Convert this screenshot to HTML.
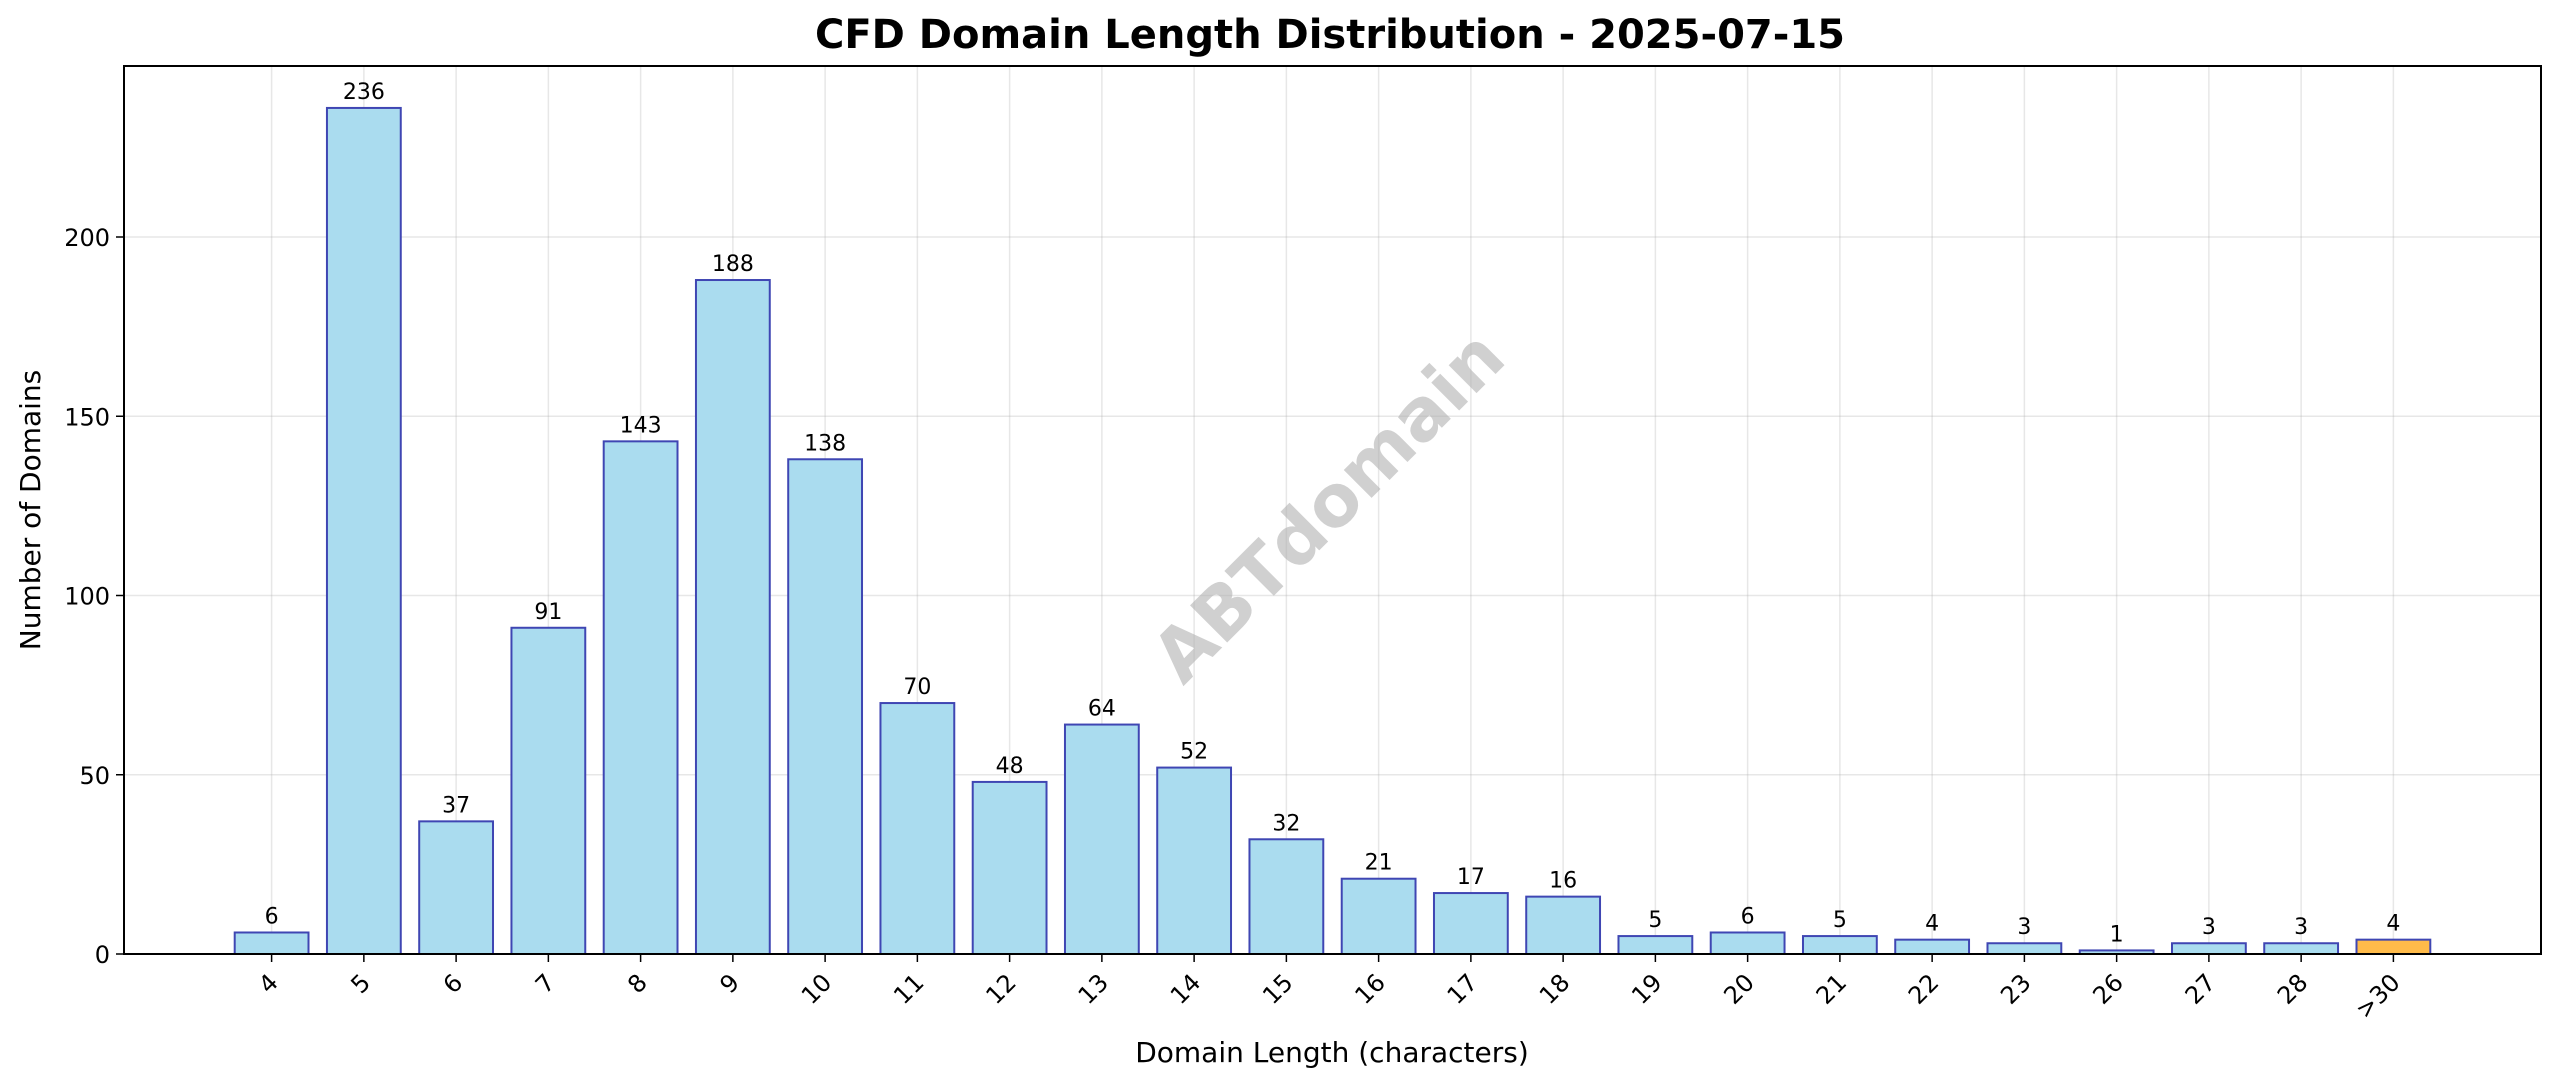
<!DOCTYPE html>
<html><head><meta charset="utf-8"><style>
html,body{margin:0;padding:0;background:#fff;}
svg{display:block;font-family:"DejaVu Sans","Liberation Sans",sans-serif;}
</style></head><body>
<svg id="chart" width="2560" height="1087" viewBox="0 0 2560 1087">
<text x="1330" y="48" text-anchor="middle" font-size="40" font-weight="bold">CFD Domain Length Distribution - 2025-07-15</text>
<g id="grid"></g>
<g id="bars"></g>
<g id="labels"></g>
<g id="ticks"></g>
<text x="1332" y="510" text-anchor="middle" dominant-baseline="middle" font-size="72" font-weight="bold" fill="#b0b0b0" fill-opacity="0.6" transform="rotate(-45 1332 510)">ABTdomain</text>
<rect x="124" y="66" width="2417" height="888" fill="none" stroke="#000" stroke-width="2"/>
<text x="1332" y="1062" text-anchor="middle" font-size="28">Domain Length (characters)</text>
<text x="40" y="510" text-anchor="middle" font-size="28" transform="rotate(-90 40 510)">Number of Domains</text>
</svg>
<script>
const categories = ["4","5","6","7","8","9","10","11","12","13","14","15","16","17","18","19","20","21","22","23","26","27","28",">30"];
const counts = [6,236,37,91,143,188,138,70,48,64,52,32,21,17,16,5,6,5,4,3,1,3,3,4];
const yTicks = [0,50,100,150,200];

const NS = "http://www.w3.org/2000/svg";
const L = 124, R = 2541, T = 66, B = 954;
const xMin = -1.6, xMax = categories.length - 1 + 1.6;
const yMax = (B - T) / 3.585;
const xs = i => L + (i - xMin) / (xMax - xMin) * (R - L);
const ys = v => B - v / yMax * (B - T);
const step = xs(1) - xs(0);
function mk(tag, attrs, parent) {
  const e = document.createElementNS(NS, tag);
  for (const k in attrs) e.setAttribute(k, attrs[k]);
  parent.appendChild(e);
  return e;
}
const grid = document.getElementById('grid'), bars = document.getElementById('bars'),
      labels = document.getElementById('labels'), ticks = document.getElementById('ticks');

yTicks.forEach(v => {
  const y = ys(v);
  const g = mk('line', {x1: L, x2: R, y1: y, y2: y, stroke: '#b0b0b0', 'stroke-opacity': 0.3, 'stroke-width': 1.5}, grid);
  
  
  const t = mk('line', {x1: L - 8, x2: L, y1: y, y2: y, stroke: '#000', 'stroke-width': 1.5}, ticks);
  
  
  const tl = mk('text', {x: L - 14, y: y + 9, 'text-anchor': 'end', 'font-size': 24}, ticks);
  tl.textContent = v;
  
  
});

categories.forEach((c, i) => {
  const x = xs(i);
  const g = mk('line', {x1: x, x2: x, y1: T, y2: B, stroke: '#b0b0b0', 'stroke-opacity': 0.3, 'stroke-width': 1.5}, grid);
  
  
  const w = step * 0.8, top = ys(counts[i]);
  const last = i === categories.length - 1;
  const b = mk('rect', {x: x - w / 2, y: top, width: w, height: B - top,
    fill: last ? '#ffbb4a' : '#aadcef', stroke: '#3f46b3', 'stroke-width': 2}, bars);
  
  
  const vl = mk('text', {x: x, y: top - 9, 'text-anchor': 'middle', 'font-size': 22}, labels);
  vl.textContent = counts[i];
  
  
  const t = mk('line', {x1: x, x2: x, y1: B, y2: B + 8, stroke: '#000', 'stroke-width': 1.5}, ticks);
  
  
  const ty = B + 22;
  const tl = mk('text', {x: x + 8, y: ty + 8, 'text-anchor': 'end', 'font-size': 24, transform: `rotate(-45 ${x + 8} ${ty + 8})`}, ticks);
  tl.textContent = c;
  
  
});
</script>
</body></html>
